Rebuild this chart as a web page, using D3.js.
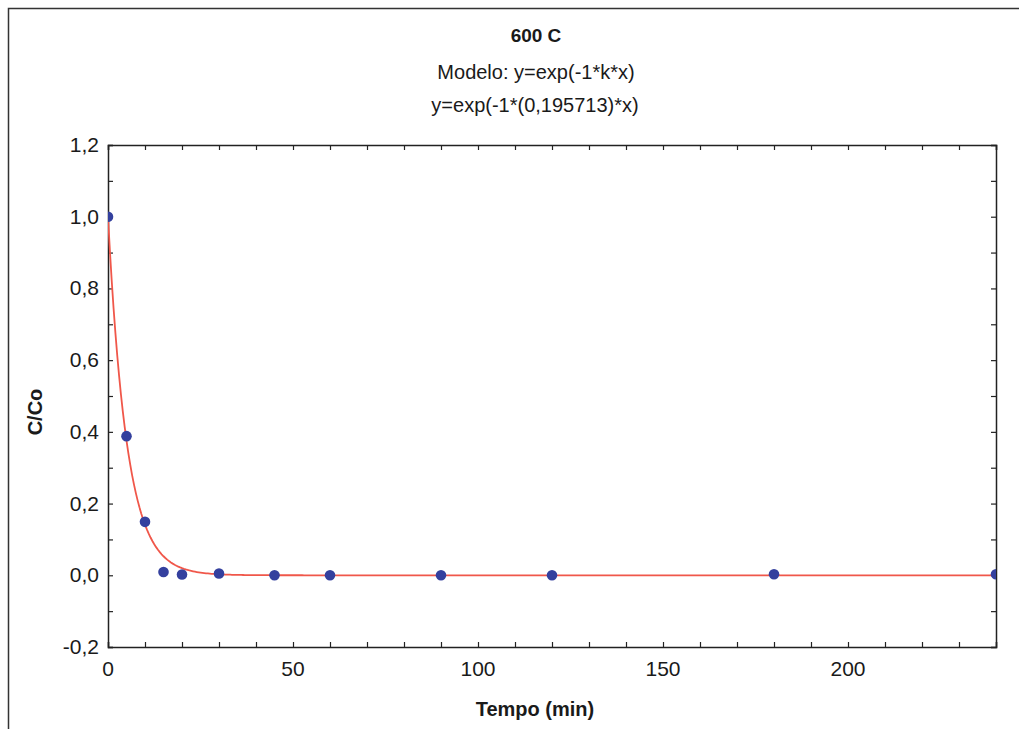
<!DOCTYPE html>
<html>
<head>
<meta charset="utf-8">
<script src="https://cdn.jsdelivr.net/npm/d3@7"></script>
<style>
  body { margin: 0; background: #fff; }
  text { font-family: "Liberation Sans", Arial, sans-serif; fill: #1a1a1a; }
</style>
</head>
<body>
<svg id="chart" width="1019" height="729"></svg>
<script>
// Measured concentration ratio over time at 600 C
const tempo = [0, 5, 10, 15, 20, 30, 45, 60, 90, 120, 180, 240];
const ratio = [1.0, 0.388, 0.149, 0.009, 0.002, 0.005, 0.0, 0.0, 0.0, 0.0, 0.003, 0.003];
const kFit = 0.195713;
const xTicks = [0, 50, 100, 150, 200];
const yTicks = [-0.2, 0, 0.2, 0.4, 0.6, 0.8, 1.0, 1.2];
const titleLines = ["600 C", "Modelo: y=exp(-1*k*x)", "y=exp(-1*(0,195713)*x)"];

const svg = d3.select("#chart");
const plotLeft = 108, plotRight = 996, plotTop = 145, plotBottom = 647;

const x = d3.scaleLinear().domain([0, 240]).range([plotLeft, plotRight]);
const y = d3.scaleLinear().domain([-0.2, 1.2]).range([plotBottom, plotTop]);

const fmt = v => d3.format(".1f")(v).replace(".", ",").replace("−", "-");

// outer frame
svg.append("path")
  .attr("d", `M8.5,735 V8.5 H1025`)
  .attr("fill", "none").attr("stroke", "#333").attr("stroke-width", 1.5);

// titles
svg.append("text").attr("x", 536).attr("y", 42).attr("text-anchor", "middle")
  .style("font-size", "19px").style("font-weight", "bold").text(titleLines[0]);
svg.append("text").attr("x", 536).attr("y", 79).attr("text-anchor", "middle")
  .style("font-size", "20px").text(titleLines[1]);
svg.append("text").attr("x", 535).attr("y", 112).attr("text-anchor", "middle")
  .style("font-size", "20px").text(titleLines[2]);

// clip for the plot area
svg.append("clipPath").attr("id", "plotclip")
  .append("rect").attr("x", plotLeft).attr("y", plotTop)
  .attr("width", plotRight - plotLeft).attr("height", plotBottom - plotTop);

// axes with inward ticks (major + minor)
const minorX = d3.range(0, 241, 10);
const minorY = d3.range(-2, 13).map(d => d / 10);

const axisG = svg.append("g");
axisG.append("g").attr("transform", `translate(0,${plotBottom})`)
  .call(d3.axisBottom(x).tickValues(minorX).tickSize(-5).tickFormat(""));
axisG.append("g").attr("transform", `translate(0,${plotTop})`)
  .call(d3.axisTop(x).tickValues(minorX).tickSize(-5).tickFormat(""));
axisG.append("g").attr("transform", `translate(${plotLeft},0)`)
  .call(d3.axisLeft(y).tickValues(minorY).tickSize(-5).tickFormat(""));
axisG.append("g").attr("transform", `translate(${plotRight},0)`)
  .call(d3.axisRight(y).tickValues(minorY).tickSize(-5).tickFormat(""));
axisG.selectAll("path.domain").attr("stroke", "#222").attr("stroke-width", 1.5);
axisG.selectAll(".tick line").attr("stroke", "#222").attr("stroke-width", 1.2);

// tick labels
svg.append("g").selectAll("text").data(xTicks).join("text")
  .attr("x", d => x(d)).attr("y", plotBottom + 29).attr("text-anchor", "middle")
  .style("font-size", "21px").text(d => d);
svg.append("g").selectAll("text").data(yTicks).join("text")
  .attr("x", plotLeft - 9).attr("y", d => y(d) + 7).attr("text-anchor", "end")
  .style("font-size", "21px").text(d => fmt(d));

// axis titles
svg.append("text").attr("x", 535).attr("y", 716).attr("text-anchor", "middle")
  .style("font-size", "20px").style("font-weight", "bold").text("Tempo (min)");
svg.append("text").attr("transform", "translate(42,412) rotate(-90)").attr("text-anchor", "middle")
  .style("font-size", "20px").style("font-weight", "bold").text("C/Co");

const plot = svg.append("g").attr("clip-path", "url(#plotclip)");

// fitted model curve
const curve = d3.range(0, 240.01, 0.5).map(t => [t, Math.exp(-kFit * t)]);
plot.append("path").datum(curve)
  .attr("d", d3.line().x(d => x(d[0])).y(d => y(d[1])))
  .attr("fill", "none").attr("stroke", "#f0574a").attr("stroke-width", 1.8);

// observations
plot.selectAll("circle").data(tempo).join("circle")
  .attr("cx", (d) => x(d)).attr("cy", (d, i) => y(ratio[i])).attr("r", 5.3)
  .attr("fill", "#34409e");
</script>
</body>
</html>
